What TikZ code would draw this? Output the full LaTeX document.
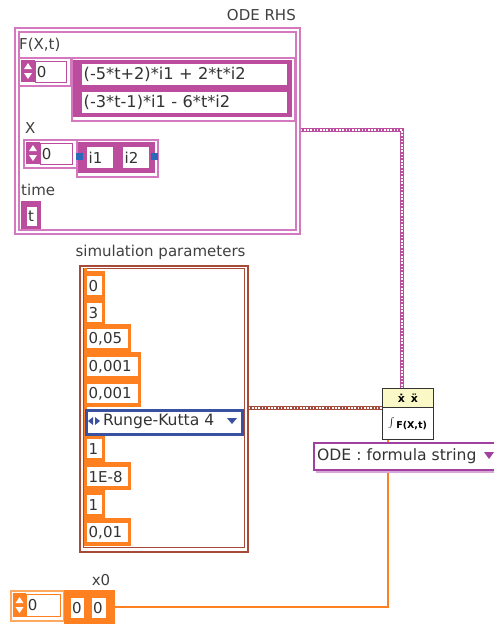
\documentclass[tikz,border=0pt]{standalone}
\usepackage{fontspec}
\setmainfont{DejaVu Sans}
\usepackage{xcolor}
\usetikzlibrary{calc}
\definecolor{stringcolor}{HTML}{BC4C9E}
\definecolor{stringlight}{HTML}{D478C0}
\definecolor{numcolor}{HTML}{FF8020}
\definecolor{numlight}{HTML}{FFA860}
\definecolor{clustcolor}{HTML}{A84A3A}
\definecolor{enumcolor}{HTML}{3A50A0}
\definecolor{termcolor}{HTML}{2A68B8}
\definecolor{ringcolor}{HTML}{A040A0}
\definecolor{ringlight}{HTML}{D8A8D8}
\definecolor{headcolor}{HTML}{FBF8C8}
\newcommand{\stepmark}[2]{
  \fill[white] (#1-4,#2+10) -- (#1+4,#2+10) -- (#1,#2+4) -- cycle;
  \fill[white] (#1-4,#2+14) -- (#1+4,#2+14) -- (#1,#2+20) -- cycle;
}
\tikzset{
  lbl/.style={inner sep=0pt,anchor=west,font=\fontsize{15}{16}\selectfont,text=black!75},
  cell/.style={anchor=north west,inner xsep=1.5pt,inner ysep=0pt,draw=none,fill=white,
    font=\fontsize{15}{16}\selectfont,text=black!80,align=left,text width=#1pt-3pt},
  frame/.style={anchor=north west,inner sep=0pt,draw=#1,fill=white,line width=1.8pt},
  solid box/.style={anchor=north west,inner sep=0pt,draw=none,fill=#1},
  term/.style={anchor=north west,inner sep=0pt,fill=termcolor,minimum width=7pt,minimum height=7pt},
  wirebase/.style={line width=4.6pt,draw=#1},
  wiredots/.style={line width=1.3pt,draw=white,dash pattern=on 1.6pt off 1.6pt},
}
\begin{document}
\begin{tikzpicture}[x=1pt,y=-1pt]
\useasboundingbox (0,0) rectangle (494,624);
%% ODE RHS cluster
\node[lbl,anchor=east] (rhslabel) at (296,15) {ODE RHS};
\node[frame=stringlight,minimum width=285pt,minimum height=206pt] (rhs) at (14,27) {};
\node[frame=stringlight,minimum width=277pt,minimum height=198pt] (rhsin) at (18,31) {};
\node[lbl] (flabel) at (19,45) {F(X,t)};
%% index of F
\node[frame=stringlight,minimum width=52pt,minimum height=28pt] (findex) at (18,57) {};
\node[solid box=stringcolor,minimum width=14pt,minimum height=22pt] (fstep) at (21,60) {};
\stepmark{28}{59}
\node[cell=31,draw=stringcolor,line width=0.7pt,minimum height=21pt] (fzero) at (35,61) {0};
%% formula array
\node[frame=stringlight,minimum width=223pt,minimum height=63pt] (farray) at (71,57) {};
\node[solid box=stringcolor,minimum width=219pt,minimum height=57pt] (fback) at (73,60) {};
\node[cell=205,font=\fontsize{16.2}{17}\selectfont,minimum height=21pt] (fone) at (82,64) {(-5*t+2)*i1 + 2*t*i2};
\node[cell=205,font=\fontsize{16.2}{17}\selectfont,minimum height=21pt] (ftwo) at (82,92) {(-3*t-1)*i1 - 6*t*i2};
%% X
\node[lbl] (xlabel) at (25,128) {X};
\node[frame=stringlight,minimum width=53pt,minimum height=28pt] (xindex) at (23,139) {};
\node[solid box=stringcolor,minimum width=14pt,minimum height=22pt] (xstep) at (26,142) {};
\stepmark{33}{141}
\node[cell=32,draw=stringcolor,line width=0.7pt,minimum height=21pt] (xzero) at (40,143) {0};
\node[frame=stringlight,minimum width=81pt,minimum height=37pt] (xarray) at (76,139) {};
\node[solid box=stringcolor,minimum width=77pt,minimum height=31pt] (xback) at (78,142) {};
\node[cell=26,minimum height=21pt] (ione) at (87,147) {i1};
\node[cell=26,minimum height=21pt] (itwo) at (123,147) {i2};
\node[term] (xtermleft) at (76,153) {};
\node[term] (xtermright) at (151,153) {};
%% time
\node[lbl] (tlabel) at (21,190) {time};
\node[solid box=stringcolor,minimum width=20pt,minimum height=28pt] (tback) at (21,201) {};
\node[cell=11,inner xsep=1pt,minimum height=19pt] (tcell) at (27,207) {t};
%% simulation parameters
\node[lbl,anchor=center] (simlabel) at (160.5,252) {simulation parameters};
\node[frame=clustcolor,minimum width=168pt,minimum height=286pt] (sim) at (79,265) {};
\node[frame=clustcolor,line width=1.4pt,minimum width=161pt,minimum height=279pt] (simin) at (83,268) {};
\foreach \name/\ytop/\rowwd/\val in {pa/276/15/0, pb/303/15/3, pc/329/41/{0,05}, pd/357/51/{0,001}, pe/384/51/{0,001},
    pf/439/15/1, pg/467/41/1E-8, ph/495/15/1, pi/523/41/{0,01}}{
  \node[solid box=numcolor,minimum width=\rowwd pt+6pt,minimum height=28pt] (\name back) at (84,\ytop-5) {};
}
\foreach \name/\ytop/\rowwd/\val in {pa/276/15/0, pb/303/15/3, pc/329/41/{0,05}, pd/357/51/{0,001}, pe/384/51/{0,001},
    pf/439/15/1, pg/467/41/1E-8, ph/495/15/1, pi/523/41/{0,01}}{
  \node[cell=\rowwd,minimum height=19pt] (\name) at (87,\ytop) {\val};
}
\node[solid box=numcolor,minimum width=3pt,minimum height=278pt] (pstrip) at (84,268) {};
\node[cell=156,draw=enumcolor,line width=2.6pt,minimum height=24pt] (method) at (85,409) {};
\node[lbl,text=black!80,font=\fontsize{15.6}{16}\selectfont] (methodtext) at (103,421) {Runge-Kutta 4};
\fill[enumcolor] (88,421) -- (93,417) -- (93,425) -- cycle (100,421) -- (95,417) -- (95,425) -- cycle;
\fill[enumcolor] (227,418) -- (237,418) -- (232,424) -- cycle;
%% solver
\node[anchor=north west,inner sep=0pt,draw=black!80,fill=white,line width=1pt,minimum width=51pt,minimum height=51pt] (solver) at (382,388) {};
\node[anchor=north west,inner sep=0pt,draw=black!80,fill=headcolor,line width=1pt,minimum width=51pt,minimum height=19pt,
  font=\fontsize{11}{11}\selectfont\bfseries] (solverhead) at (382,388) {ẋ\hspace{6pt}ẍ};
\node[inner sep=0pt,font=\fontsize{9.5}{10}\selectfont\bfseries] (solverlabel) at (407.5,424) {{\fontsize{20}{20}\selectfont$\int$}\,F(X,t)};
%% ODE type ring
\node[anchor=north west,inner sep=0pt,draw=ringlight,fill=ringlight,line width=1pt,minimum width=190pt,minimum height=27pt] (oringshadow) at (316,445) {};
\node[anchor=north west,inner sep=0pt,draw=ringcolor,fill=white,line width=1.5pt,minimum width=190pt,minimum height=27pt] (odering) at (313,442) {};
\node[lbl,text=black!80,font=\fontsize{15.6}{16}\selectfont] (oringtext) at (317,456) {ODE : formula string};
\fill[ringcolor] (484,452) -- (494,452) -- (489,459) -- cycle;
%% x0
\node[lbl,anchor=center] (xolabel) at (101,580) {x0};
\node[frame=numlight,minimum width=53pt,minimum height=30pt] (xoindex) at (10,590) {};
\node[solid box=numcolor,minimum width=13pt,minimum height=24pt] (xostep) at (13,593) {};
\stepmark{19.5}{593}
\node[cell=34,draw=numcolor,line width=0.7pt,minimum height=22pt] (xozero) at (26,594) {0};
\node[solid box=numcolor,minimum width=51pt,minimum height=34pt] (xoarray) at (64,590) {};
\node[cell=14,inner xsep=1pt,minimum height=20pt] (xoa) at (71,598) {0};
\node[cell=15,inner xsep=1pt,minimum height=20pt] (xob) at (92,598) {0};
%% wires
\coordinate (bendrhs) at (402,130);
\coordinate (simwire) at (300,408);
\draw[wirebase=stringcolor] (rhs.east |- bendrhs) -- (bendrhs) -- (bendrhs |- solver.north);
\draw[wiredots] (rhs.east |- bendrhs) -- (bendrhs) -- (bendrhs |- solver.north);
\draw[wirebase=clustcolor] (sim.east |- simwire) -- (solver.west |- simwire);
\draw[wiredots] (sim.east |- simwire) -- (solver.west |- simwire);
\coordinate (bendxo) at (388,607);
\draw[numcolor,line width=2.6pt] (xoarray.east |- bendxo) -- (bendxo) -- (bendxo |- oringshadow.south);
\draw[numcolor,line width=2.6pt] (odering.north -| bendxo) -- (solver.south -| bendxo);
\end{tikzpicture}
\end{document}
